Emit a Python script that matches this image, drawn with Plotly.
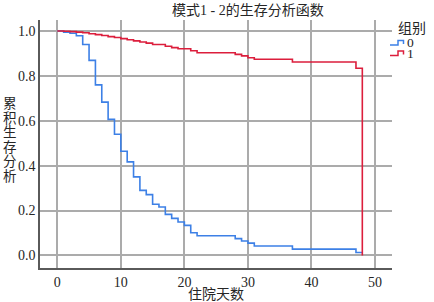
import plotly.graph_objects as go

# Data (Kaplan-Meier style step curves)
days0 = [0, 1, 2, 3, 4, 5, 6, 7, 8, 9, 10, 11, 12, 13, 14, 15, 16, 17, 18, 19, 20, 21, 22,
         28, 29, 30, 31, 37, 47, 48]
surv0 = [1.0, 0.995, 0.990, 0.979, 0.940, 0.869, 0.760, 0.683, 0.606, 0.540, 0.464, 0.417,
         0.350, 0.290, 0.271, 0.228, 0.216, 0.183, 0.165, 0.149, 0.134, 0.101, 0.088,
         0.075, 0.064, 0.055, 0.042, 0.028, 0.013, 0.013]

days1 = [0, 1, 2, 3, 4, 5, 6, 7, 8, 9, 10, 11, 12, 13, 14, 15, 17, 18, 19, 21, 22,
         28, 29, 30, 31, 37, 47, 48]
surv1 = [1.0, 0.999, 0.997, 0.995, 0.992, 0.988, 0.984, 0.980, 0.975, 0.971, 0.966, 0.961,
         0.956, 0.951, 0.946, 0.940, 0.932, 0.926, 0.921, 0.912, 0.903,
         0.896, 0.889, 0.881, 0.874, 0.862, 0.834, 0.0]

group_names = ["0", "1"]
colors = ["#3d80e6", "#dc1e3c"]
x_ticks = [0, 10, 20, 30, 40, 50]
y_ticks = [0.0, 0.2, 0.4, 0.6, 0.8, 1.0]

title_text = "模式1 - 2的生存分析函数"
x_title = "住院天数"
y_title = "累积生存分析"
legend_title = "组别"

FONT = "Times New Roman, Liberation Serif, DejaVu Serif, Noto Sans CJK SC, serif"
TXT = "#262626"

W, H = 434, 302
ML, MR, MT, MB = 40, 42, 20, 34
PH = H - MT - MB
PW = W - ML - MR


def px_to_paper_x(px):
    return (px - ML) / PW


def py_to_paper_y(py):
    return (H - MB - py) / PH


fig = go.Figure()
for d, s, c, n in [(days0, surv0, colors[0], group_names[0]),
                   (days1, surv1, colors[1], group_names[1])]:
    fig.add_trace(go.Scatter(x=d, y=s, mode="lines", line=dict(color=c, width=1.6, shape="hv"),
                             name=n, showlegend=False, hoverinfo="skip"))

annotations = []
# Title
annotations.append(dict(text=title_text, x=px_to_paper_x(248), y=py_to_paper_y(11),
                        xref="paper", yref="paper", showarrow=False,
                        font=dict(family=FONT, size=14, color=TXT), xanchor="center", yanchor="middle"))
# Stacked y title
centers = [103.5, 118.0, 132.5, 147.0, 161.5, 176.0]
for ch, cy in zip(y_title, centers):
    annotations.append(dict(text=ch, x=px_to_paper_x(10), y=py_to_paper_y(cy),
                            xref="paper", yref="paper", showarrow=False, borderpad=0,
                            font=dict(family=FONT, size=13.5, color=TXT),
                            xanchor="center", yanchor="middle"))
# Legend
annotations.append(dict(text=legend_title, x=px_to_paper_x(412), y=py_to_paper_y(28.5),
                        xref="paper", yref="paper", showarrow=False,
                        font=dict(family=FONT, size=14, color=TXT), xanchor="center", yanchor="middle"))
shapes = []
for i, (n, c) in enumerate(zip(group_names, colors)):
    base = 45 + i * 10.5
    annotations.append(dict(text=n, x=px_to_paper_x(406), y=py_to_paper_y(base - 2.5),
                            xref="paper", yref="paper", showarrow=False, borderpad=0,
                            font=dict(family=FONT, size=13.5, color=TXT), xanchor="left", yanchor="middle"))
    pts = [(390, base), (398, base), (398, base - 4.5), (403.5, base - 4.5), (403.5, base - 1)]
    path = "M " + " L ".join(f"{px_to_paper_x(a):.5f},{py_to_paper_y(b):.5f}" for a, b in pts)
    shapes.append(dict(type="path", path=path, xref="paper", yref="paper",
                       line=dict(color=c, width=1.5)))

fig.update_layout(
    width=W, height=H,
    margin=dict(l=ML, r=MR, t=MT, b=MB, autoexpand=False),
    paper_bgcolor="white", plot_bgcolor="white",
    font=dict(family=FONT, size=14, color=TXT),
    annotations=annotations, shapes=shapes,
    showlegend=False, hovermode=False,
)
fig.update_xaxes(range=[-2.72, 52.67], tickvals=x_ticks, ticktext=[str(v) for v in x_ticks],
                 showgrid=True, gridcolor="#ababab", gridwidth=1.5, zeroline=False,
                 showline=True, linecolor="#5a5a5a", linewidth=1.5, ticks="", automargin=False,
                 tickfont=dict(family=FONT, size=14, color=TXT),
                 title=dict(text=x_title, font=dict(family=FONT, size=14, color=TXT), standoff=2))
fig.update_yaxes(range=[-0.056, 1.049], tickvals=y_ticks, ticktext=[f"{v:.1f}" for v in y_ticks],
                 showgrid=True, gridcolor="#ababab", gridwidth=1.5, zeroline=False,
                 showline=True, linecolor="#5a5a5a", linewidth=1.5, ticks="", automargin=False,
                 tickfont=dict(family=FONT, size=14, color=TXT))

fig.write_html("out.html", config={"displayModeBar": False},
               post_script="document.body.style.margin='0';document.body.style.overflow='hidden';")
